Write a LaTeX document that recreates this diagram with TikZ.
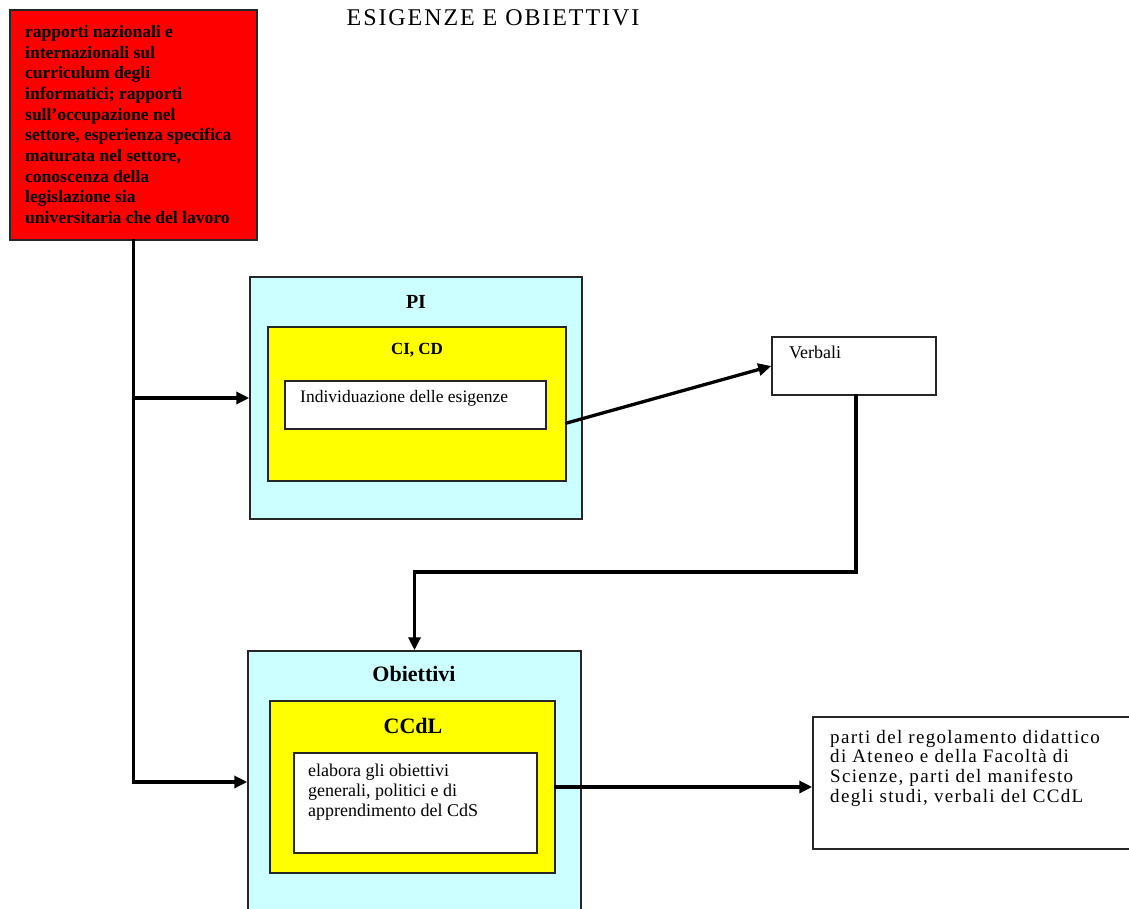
\documentclass[tikz,border=0pt]{standalone}
\usepackage{fontspec}
\setmainfont{Liberation Serif}
\usetikzlibrary{arrows.meta,calc}
\definecolor{boxcyan}{RGB}{204,255,255}
\definecolor{boxyellow}{RGB}{255,255,0}
\definecolor{boxred}{RGB}{255,0,0}
\tikzset{
  panel/.style={draw=black!85, line width=1.5pt, inner sep=0pt},
  conn/.style={line width=3.3pt, line cap=rect},
  arrow/.style={conn, -{Triangle[length=13pt,width=12pt]}},
  lbl/.style={inner sep=0pt, align=left},
  head/.style={inner sep=0pt, font=\bfseries\fontsize{20}{22}\selectfont}
}
\begin{document}
\begin{tikzpicture}[x=1pt,y=-1pt]
\useasboundingbox (0,0) rectangle (1129,909);
\clip (0,0) rectangle (1129,909);

% title
\node[inner sep=0pt, font=\fontsize{24}{26}\selectfont\addfontfeature{LetterSpace=8}] (title) at (493,18) {ESIGENZE E OBIETTIVI};

% source box
\node[panel, fill=boxred, minimum width=247, minimum height=230] (src) at (133.5,125) {};
\node[lbl, anchor=north west, font=\bfseries\fontsize{17.5}{20.7}\selectfont] (srctext) at (25,25)
  {rapporti nazionali e\\ internazionali sul\\ curriculum degli\\ informatici; rapporti\\ sull'occupazione nel\\ settore, esperienza specifica\\ maturata nel settore,\\ conoscenza della\\ legislazione sia\\ universitaria che del lavoro};

% PI block
\node[panel, fill=boxcyan, minimum width=332, minimum height=242] (pi) at (416,398) {};
\node[panel, fill=boxyellow, minimum width=298, minimum height=154] (cicd) at (417,404) {};
\node[panel, fill=white, minimum width=261, minimum height=48] (ind) at (415.5,405) {};
\node[head] (pilbl) at (416,302) {PI};
\node[head, font=\bfseries\fontsize{17}{19}\selectfont] (cicdlbl) at (417,350) {CI, CD};
\node[lbl, anchor=west, font=\fontsize{17.5}{19}\selectfont] (indlbl) at (300,398) {Individuazione delle esigenze};

% Verbali
\node[panel, fill=white, minimum width=164, minimum height=58] (verb) at (854,366) {};
\node[lbl, anchor=west, font=\fontsize{18}{20}\selectfont] (verblbl) at (789,352) {Verbali};

% Obiettivi block
\node[panel, fill=boxcyan, minimum width=333, minimum height=284] (obj) at (414.5,793) {};
\node[panel, fill=boxyellow, minimum width=285, minimum height=172] (ccdl) at (412.5,787) {};
\node[panel, fill=white, minimum width=243, minimum height=100] (elab) at (415.5,803) {};
\node[head, font=\bfseries\fontsize{22}{24}\selectfont] (objlbl) at (414,674) {Obiettivi};
\node[head, font=\bfseries\fontsize{22}{24}\selectfont] (ccdllbl) at (413,726) {CCdL};
\node[lbl, anchor=north west, font=\fontsize{18}{20}\selectfont] (elablbl) at (308,764)
  {elabora gli obiettivi\\ generali, politici e di\\ apprendimento del CdS};

% output documents
\node[panel, fill=white, minimum width=327, minimum height=132] (out) at (976.5,783) {};
\node[lbl, anchor=north west, font=\fontsize{19}{19.6}\selectfont\addfontfeature{LetterSpace=7}] (outlbl) at (830,730)
  {parti del regolamento didattico\\ di Ateneo e della Facoltà di\\ Scienze, parti del manifesto\\ degli studi, verbali del CCdL};

% connectors
\coordinate (j1) at (133.5,398);
\coordinate (j2) at (133.5,782);
\coordinate (bend) at (0,572);
\draw[conn] (src.south) -- (j2);
\draw[arrow] (j1) -- (pi.west |- j1);
\draw[arrow] (j2) -- (obj.west |- j2);
\draw[arrow] ([yshift=-19pt]cicd.east) -- (verb.west);
\draw[arrow] ([xshift=2pt]verb.south) |- (obj.north |- bend) -- (obj.north);
\draw[arrow] (ccdl.east) -- (out.west |- ccdl.east);
\end{tikzpicture}
\end{document}
